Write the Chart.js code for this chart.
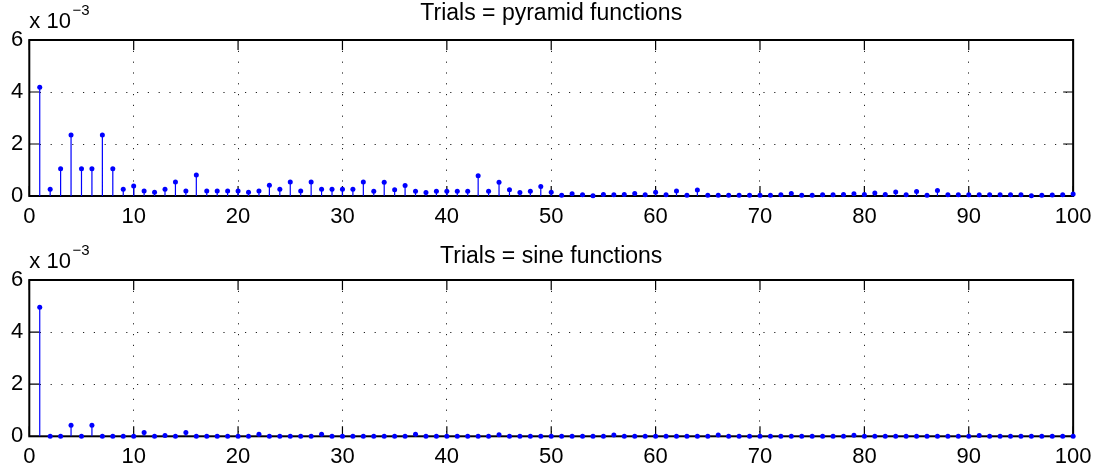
<!DOCTYPE html>
<html>
<head>
<meta charset="utf-8">
<script src="https://cdn.jsdelivr.net/npm/chart.js@4.4.1/dist/chart.umd.min.js"></script>
<style>
  html, body { margin: 0; padding: 0; background: #fff; }
  #wrap { position: relative; width: 1099px; height: 475px; }
  .panel { position: absolute; left: 0; }
</style>
</head>
<body>
<div id="wrap">
  <canvas id="pyramidChart" class="panel" width="1099" height="237" style="top:0px"></canvas>
  <canvas id="sineChart" class="panel" width="1099" height="238" style="top:237px"></canvas>
</div>
<script>
// =============================
// DATA (values in units of 10^-3, trial index = position + 1)
// =============================

const pyramidValues = [
    4.18, 0.26, 1.05, 2.35, 1.05, 1.05, 2.35, 1.05, 0.26, 0.38,
    0.19, 0.14, 0.26, 0.54, 0.19, 0.81, 0.19, 0.19, 0.19, 0.19,
    0.14, 0.19, 0.41, 0.26, 0.54, 0.19, 0.54, 0.26, 0.26, 0.26,
    0.26, 0.54, 0.18, 0.53, 0.24, 0.40, 0.18, 0.13, 0.18, 0.18,
    0.18, 0.18, 0.78, 0.18, 0.53, 0.24, 0.13, 0.18, 0.37, 0.14,
    0.03, 0.09, 0.05, 0.01, 0.06, 0.05, 0.06, 0.10, 0.05, 0.14,
    0.05, 0.19, 0.03, 0.23, 0.03, 0.03, 0.03, 0.03, 0.03, 0.03,
    0.03, 0.05, 0.10, 0.03, 0.03, 0.05, 0.05, 0.06, 0.09, 0.06,
    0.12, 0.06, 0.15, 0.05, 0.17, 0.03, 0.21, 0.05, 0.05, 0.05,
    0.05, 0.05, 0.05, 0.05, 0.05, 0.01, 0.03, 0.04, 0.05, 0.08
];

const sineValues = [
    4.95, 0, 0, 0.42, 0, 0.42, 0, 0, 0, 0,
    0.15, 0, 0.03, 0, 0.15, 0, 0, 0, 0, 0,
    0, 0.08, 0, 0, 0, 0, 0, 0.08, 0, 0,
    0, 0, 0, 0, 0, 0, 0.08, 0, 0, 0,
    0, 0, 0, 0, 0.06, 0, 0, 0, 0, 0,
    0, 0, 0, 0, 0, 0.05, 0, 0, 0, 0,
    0, 0, 0, 0, 0, 0.05, 0, 0, 0, 0,
    0, 0, 0, 0, 0, 0, 0, 0, 0.04, 0,
    0, 0, 0, 0, 0, 0, 0, 0, 0, 0,
    0.03, 0, 0, 0, 0, 0, 0, 0, 0, 0
];

const xTickValues = [0, 10, 20, 30, 40, 50, 60, 70, 80, 90, 100];
const yTickValues = [0, 2, 4, 6];
const exponentText = "\u22123";

const FONT = "'Liberation Sans', Arial, Helvetica, sans-serif";
const TICK_LEN = 10;


// =============================
// MATLAB STYLE BOX + STEMS
// =============================

const stemPlugin = {
    id: "stemBox",
    beforeDatasetsDraw(chart) {
        const { ctx, chartArea: a, scales: { x, y } } = chart;
        ctx.save();

        // inward ticks
        ctx.strokeStyle = "#000";
        ctx.lineWidth = 1.2;
        ctx.beginPath();
        xTickValues.forEach(v => {
            const px = x.getPixelForValue(v);
            ctx.moveTo(px, a.bottom); ctx.lineTo(px, a.bottom - TICK_LEN);
            ctx.moveTo(px, a.top); ctx.lineTo(px, a.top + TICK_LEN);
        });
        yTickValues.forEach(v => {
            const py = y.getPixelForValue(v);
            ctx.moveTo(a.left, py); ctx.lineTo(a.left + TICK_LEN, py);
            ctx.moveTo(a.right, py); ctx.lineTo(a.right - TICK_LEN, py);
        });
        ctx.stroke();

        // box
        ctx.lineWidth = 2;
        ctx.strokeRect(a.left, a.top, a.right - a.left, a.bottom - a.top);

        // stems
        const y0 = y.getPixelForValue(0);
        ctx.strokeStyle = "#0000ff";
        ctx.lineWidth = 1.2;
        ctx.beginPath();
        chart.getDatasetMeta(0).data.forEach(pt => {
            ctx.moveTo(pt.x, y0);
            ctx.lineTo(pt.x, pt.y);
        });
        ctx.stroke();

        ctx.restore();
    },
    afterDraw(chart) {
        const { ctx, chartArea: a } = chart;
        ctx.save();
        ctx.fillStyle = "#000";
        ctx.textBaseline = "alphabetic";
        ctx.font = "22px " + FONT;
        ctx.fillText("x 10", a.left, a.top - 11.7);
        const w = ctx.measureText("x 10").width;
        ctx.font = "15px " + FONT;
        ctx.fillText(exponentText, a.left + w + 1.5, a.top - 25);
        ctx.restore();
    }
};


// =============================
// CHART FACTORY
// =============================

function makeChart(id, title, values, cfg) {

    return new Chart(document.getElementById(id), {
        type: "scatter",
        data: {
            datasets: [
                {
                    data: values.map((v, i) => ({ x: i + 1, y: v })),
                    pointRadius: 2.5,
                    pointBackgroundColor: "#0000ff",
                    pointBorderWidth: 0,
                    showLine: false,
                    clip: false
                }
            ]
        },
        options: {
            responsive: false,
            animation: false,
            events: [],
            layout: { padding: { left: 0, right: 22, top: 0, bottom: 0 } },
            plugins: {
                legend: { display: false },
                tooltip: { enabled: false },
                title: {
                    display: true,
                    text: title,
                    color: "#000",
                    fullSize: false,
                    font: { family: FONT, size: 23, weight: "normal", lineHeight: 1 },
                    padding: { top: cfg.titleTop, bottom: cfg.titleBottom }
                }
            },
            scales: {
                x: {
                    type: "linear",
                    min: 0,
                    max: 100,
                    afterBuildTicks: s => { s.ticks = xTickValues.map(v => ({ value: v })); },
                    afterFit: s => { s.height = cfg.xAxisHeight; },
                    ticks: {
                        color: "#000",
                        font: { family: FONT, size: 22 },
                        padding: 7.5,
                        maxRotation: 0,
                        autoSkip: false
                    },
                    grid: { drawTicks: false, color: "#222", lineWidth: 1 },
                    border: { display: false, dash: [1.2, 9.6] }
                },
                y: {
                    min: 0,
                    max: 6,
                    afterBuildTicks: s => { s.ticks = yTickValues.map(v => ({ value: v })); },
                    afterFit: s => { s.width = 29.3; },
                    ticks: {
                        color: "#000",
                        font: { family: FONT, size: 22 },
                        padding: 6
                    },
                    grid: { drawTicks: false, color: "#222", lineWidth: 1 },
                    border: { display: false, dash: [1.2, 9.6] }
                }
            }
        },
        plugins: [stemPlugin]
    });

}

makeChart("pyramidChart", "Trials = pyramid functions", pyramidValues,
    { titleTop: 2, titleBottom: 15, xAxisHeight: 41 });

makeChart("sineChart", "Trials = sine functions", sineValues,
    { titleTop: 8, titleBottom: 12, xAxisHeight: 38.7 });
</script>
</body>
</html>
